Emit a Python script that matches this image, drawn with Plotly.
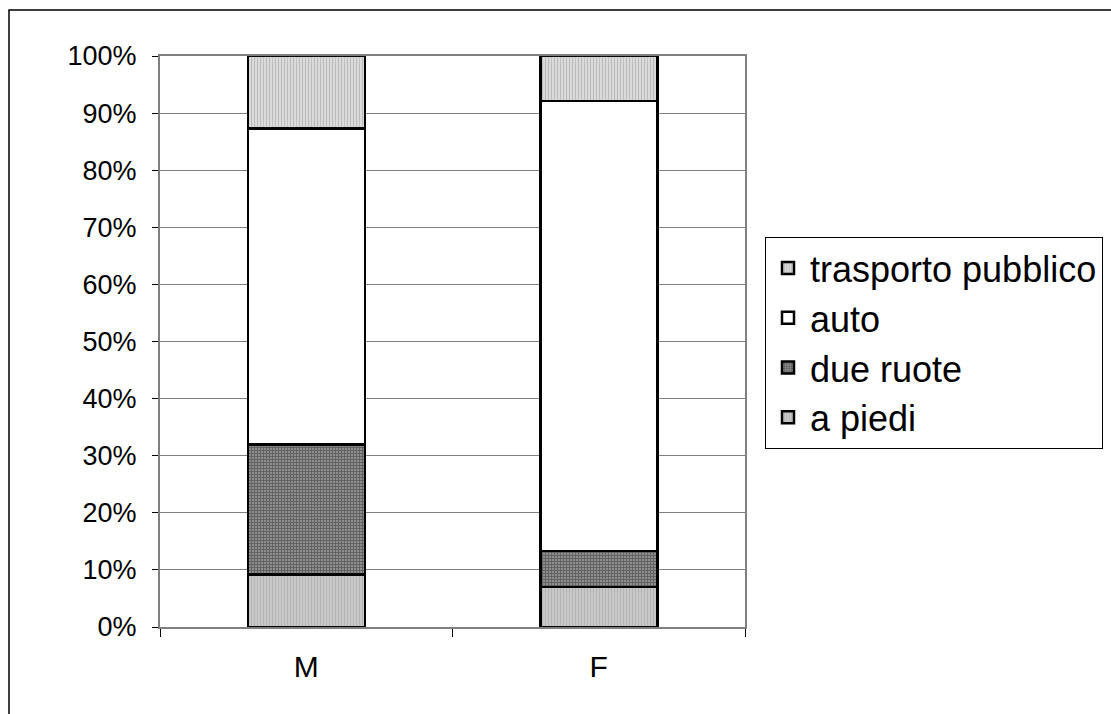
import plotly.graph_objects as go

# Modal split by sex (share of trips)
categories = ["M", "F"]
series_names = ["a piedi", "due ruote", "auto", "trasporto pubblico"]
a_piedi = [0.092, 0.070]
due_ruote = [0.228, 0.063]
auto = [0.553, 0.788]
trasporto_pubblico = [0.127, 0.079]
y_ticks = [0, 0.1, 0.2, 0.3, 0.4, 0.5, 0.6, 0.7, 0.8, 0.9, 1.0]

values = [a_piedi, due_ruote, auto, trasporto_pubblico]

patterns = {
    "a piedi": dict(shape="|", fgcolor="#999999", bgcolor="#cfcfcf", size=3, solidity=0.5),
    "due ruote": dict(shape="+", fgcolor="#1e1e1e", bgcolor="#a8a8a8", size=3, solidity=0.7),
    "auto": dict(shape="", bgcolor="white"),
    "trasporto pubblico": dict(shape="|", fgcolor="#777777", bgcolor="white", size=3, solidity=0.7),
}

FONT = "Liberation Sans, Arial, sans-serif"

fig = go.Figure()
for name, vals in zip(series_names, values):
    fig.add_trace(go.Bar(
        name=name,
        x=categories,
        y=vals,
        marker=dict(
            color="white",
            pattern=patterns[name],
            line=dict(color="black", width=2.5),
        ),
    ))

fig.update_layout(
    width=1111,
    height=714,
    barmode="stack",
    bargap=0.6,
    plot_bgcolor="white",
    paper_bgcolor="white",
    margin=dict(l=160, r=366, t=56, b=87, autoexpand=False),
    font=dict(family=FONT, color="black"),
    legend=dict(
        x=(765 - 160) / 585,
        y=(627 - 237) / 571,
        xanchor="left",
        yanchor="top",
        traceorder="reversed",
        font=dict(size=36, family=FONT, color="black"),
        bordercolor="black",
        borderwidth=1,
        bgcolor="white",
        itemwidth=34,
    ),
    showlegend=True,
)

fig.update_yaxes(
    range=[0, 1],
    tickvals=y_ticks,
    tickformat=".0%",
    tickfont=dict(size=27, family=FONT, color="black"),
    showgrid=True,
    gridcolor="#808080",
    gridwidth=1,
    ticks="outside",
    ticklen=6,
    tickcolor="black",
    showline=True,
    linecolor="#808080",
    linewidth=2,
    mirror=True,
    ticklabelstandoff=10,
    zeroline=False,
)

fig.update_xaxes(
    tickson="boundaries",
    ticks="outside",
    ticklen=8,
    tickcolor="black",
    tickfont=dict(size=30, family=FONT, color="black"),
    showline=True,
    linecolor="#808080",
    linewidth=2,
    mirror=True,
    ticklabelstandoff=12,
)

# Outer chart frame
fig.add_shape(
    type="rect", xref="paper", yref="paper",
    x0=(9 - 160) / 585, x1=2.0,
    y0=-0.5, y1=(627 - 10) / 571,
    line=dict(color="black", width=1.5),
    fillcolor="rgba(0,0,0,0)",
    layer="below",
)

fig.write_html("out.html")
